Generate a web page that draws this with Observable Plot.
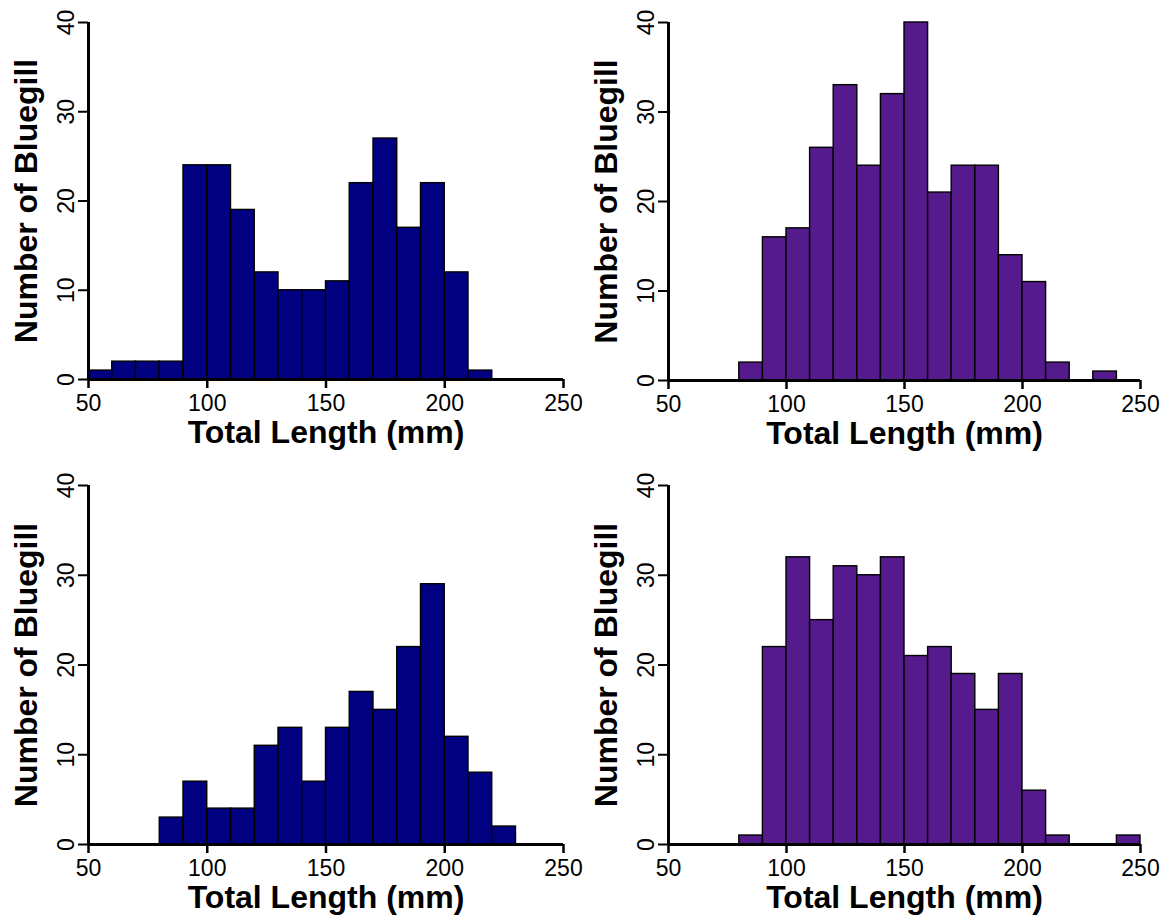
<!DOCTYPE html>
<html>
<head>
<meta charset="utf-8">
<script src="https://cdn.jsdelivr.net/npm/d3@7"></script>
<script src="https://cdn.jsdelivr.net/npm/@observablehq/plot@0.6"></script>
<style>
  body { margin: 0; background: #fff; width: 1170px; height: 920px; position: relative; overflow: hidden; font-family: "Liberation Sans", Arial, sans-serif; }
  .panel { position: absolute; }
</style>
</head>
<body>
<div id="p1" class="panel"></div>
<div id="p2" class="panel"></div>
<div id="p3" class="panel"></div>
<div id="p4" class="panel"></div>
<script>
// Bin lower edges (mm), 10 mm bins
const binStarts = [50, 60, 70, 80, 90, 100, 110, 120, 130, 140, 150, 160, 170, 180, 190, 200, 210, 220, 230, 240];
const binWidth = 10;

// Counts per bin for each panel
const countsTopLeft     = [1, 2, 2, 2, 24, 24, 19, 12, 10, 10, 11, 22, 27, 17, 22, 12, 1, 0, 0, 0];
const countsTopRight    = [0, 0, 0, 2, 16, 17, 26, 33, 24, 32, 40, 21, 24, 24, 14, 11, 2, 0, 1, 0];
const countsBottomLeft  = [0, 0, 0, 3, 7, 4, 4, 11, 13, 7, 13, 17, 15, 22, 29, 12, 8, 2, 0, 0];
const countsBottomRight = [0, 0, 0, 1, 22, 32, 25, 31, 30, 32, 21, 22, 19, 15, 19, 6, 1, 0, 0, 1];

const xTicks = [50, 100, 150, 200, 250];
const yTicks = [0, 10, 20, 30, 40];
const xTitle = "Total Length (mm)";
const yTitle = "Number of Bluegill";

const navy = "#000080";
const purple = "#551a8b";

function panel(el, counts, fill, box) {
  const data = binStarts.map((s, i) => ({x1: s, x2: s + binWidth, count: counts[i]})).filter(d => d.count > 0);
  const chart = Plot.plot({
    width: box.width,
    height: box.height,
    marginLeft: box.ml,
    marginRight: box.mr,
    marginTop: box.mt,
    marginBottom: box.mb,
    style: {fontFamily: '"Liberation Sans", Arial, sans-serif', color: "#000", background: "transparent", overflow: "visible"},
    x: {domain: [50, 250]},
    y: {domain: [0, 40]},
    marks: [
      Plot.rectY(data, {x1: "x1", x2: "x2", y: "count", fill: fill, stroke: "#000", strokeWidth: 1.4}),
      Plot.axisX({ticks: xTicks, tickSize: 9, tickPadding: 6, fontSize: 23, label: null, stroke: "#000", strokeWidth: 2.5, fill: "#000"}),
      Plot.axisY({ticks: yTicks, tickSize: 10, tickPadding: 5, fontSize: 23, tickRotate: -90, label: null, stroke: "#000", strokeWidth: 2, fill: "#000"}),
      Plot.ruleY([0], {stroke: "#000", strokeWidth: 3}),
      Plot.ruleX([50], {stroke: "#000", strokeWidth: 3}),
      Plot.text([xTitle], {frameAnchor: "bottom", dy: 53, fontSize: 32, fontWeight: "bold", fill: "#000", textAnchor: "middle", lineAnchor: "middle"}),
      Plot.text([yTitle], {frameAnchor: "left", dx: -62, dy: 0, fontSize: 32, fontWeight: "bold", fill: "#000", rotate: -90, textAnchor: "middle", lineAnchor: "middle"})
    ]
  });
  const div = document.getElementById(el);
  div.style.left = box.left + "px";
  div.style.top = box.top + "px";
  div.appendChild(chart);
}

panel("p1", countsTopLeft, navy,    {left: 0,   top: 0,   width: 585, height: 460, ml: 88, mr: 22, mt: 22, mb: 81});
panel("p2", countsTopRight, purple, {left: 580, top: 0,   width: 590, height: 460, ml: 88, mr: 30, mt: 22, mb: 80});
panel("p3", countsBottomLeft, navy, {left: 0,   top: 460, width: 585, height: 460, ml: 88, mr: 22, mt: 25, mb: 76});
panel("p4", countsBottomRight, purple, {left: 580, top: 460, width: 590, height: 460, ml: 88, mr: 30, mt: 25, mb: 76});
</script>
</body>
</html>
